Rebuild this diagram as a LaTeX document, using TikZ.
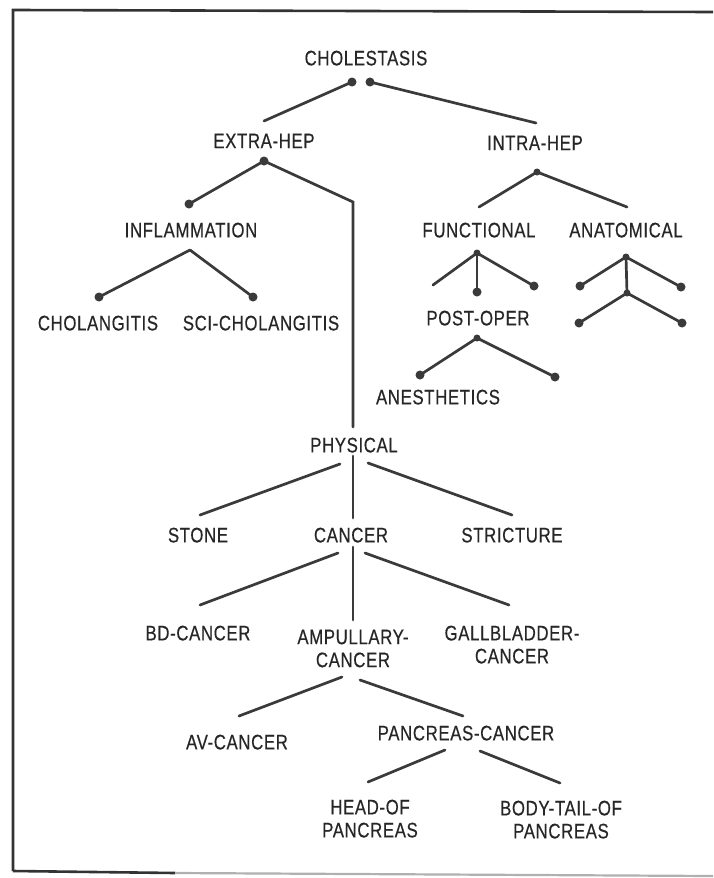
\documentclass[tikz,border=0pt]{standalone}
\usepackage{fontspec}
\setmainfont{Liberation Sans}[FakeStretch=0.8,LetterSpace=3,FakeBold=0.4]
\definecolor{ink}{HTML}{262626}
\definecolor{wire}{HTML}{3A3A3A}
\definecolor{rule}{HTML}{333333}
\definecolor{rulelight}{HTML}{B0B0B0}
\begin{document}
\begin{tikzpicture}[x=1pt,y=-1pt,
  lbl/.style={anchor=north,inner sep=0pt,text=ink,align=center,
              font=\fontsize{21}{23}\selectfont},
  edge/.style={draw=wire,line width=2.7pt,line cap=round},
  frame/.style={draw=rule,line width=2.6pt},
  framelight/.style={draw=rulelight,line width=2.2pt}]
\useasboundingbox[fill=white] (0,0) rectangle (713,878);

% outer rule
\draw[frame] (13,871) -- (13,10) -- (713,12);
\draw[frame] (13,871) -- (175,873);
\draw[framelight] (175,873) -- (713,876);

% labels
\node[lbl] (cholestasis) at (366,50.5) {CHOLESTASIS};
\node[lbl] (extrahep) at (264,133.5) {EXTRA-HEP};
\node[lbl] (intrahep) at (535,135.5) {INTRA-HEP};
\node[lbl] (inflammation) at (191,222.5) {INFLAMMATION};
\node[lbl] (cholangitis) at (98,315.5) {CHOLANGITIS};
\node[lbl] (scichol) at (261,315.5) {SCI-CHOLANGITIS};
\node[lbl] (functional) at (479,222.5) {FUNCTIONAL};
\node[lbl] (anatomical) at (626,222.5) {ANATOMICAL};
\node[lbl] (postoper) at (478,310.5) {POST-OPER};
\node[lbl] (anesthetics) at (438,389.5) {ANESTHETICS};
\node[lbl] (physical) at (354,437.5) {PHYSICAL};
\node[lbl] (stone) at (198,527.5) {STONE};
\node[lbl] (cancer) at (351,527.5) {CANCER};
\node[lbl] (stricture) at (512,527.5) {STRICTURE};
\node[lbl] (bdcancer) at (198,625.5) {BD-CANCER};
\node[lbl] (ampullary) at (353,629.5) {AMPULLARY-\\CANCER};
\node[lbl] (gallbladder) at (512,625.5) {GALLBLADDER-\\CANCER};
\node[lbl] (avcancer) at (237,734.5) {AV-CANCER};
\node[lbl] (pancreascancer) at (466,725.5) {PANCREAS-CANCER};
\node[lbl] (headof) at (370,799.5) {HEAD-OF\\PANCREAS};
\node[lbl] (bodytail) at (561,800.5) {BODY-TAIL-OF\\PANCREAS};

% branch points
\coordinate (chL) at (352,82);   \coordinate (chR) at (370,82);
\coordinate (exTop) at (264,121); \coordinate (inTop) at (536,123);
\coordinate (exV) at (264,161);  \coordinate (inflD) at (189,204);
\coordinate (exBend) at (353,202); \coordinate (phTop) at (353,427);
\coordinate (inV) at (537,172);  \coordinate (fnTop) at (479,207);
\coordinate (anTop) at (627,207);
\coordinate (fnV) at (477,253);  \coordinate (fnL) at (433,285);
\coordinate (fnM) at (477,292);  \coordinate (fnR) at (534,286);
\coordinate (poV) at (477,338);  \coordinate (poL) at (420,375);
\coordinate (poR) at (555,377);
\coordinate (anV) at (626,257);  \coordinate (anL) at (580,286);
\coordinate (anR) at (681,287);  \coordinate (anM) at (627,293);
\coordinate (anLL) at (579,323); \coordinate (anRR) at (682,323);
\coordinate (infV) at (190,250); \coordinate (infL) at (99,297);
\coordinate (infR) at (253,297);
\coordinate (phL1) at (340,464); \coordinate (phL2) at (200,515);
\coordinate (phM1) at (353,456); \coordinate (phM2) at (353,518);
\coordinate (phR1) at (368,463); \coordinate (phR2) at (512,515);
\coordinate (caL1) at (338,553); \coordinate (caL2) at (200,605);
\coordinate (caM1) at (353,547); \coordinate (caM2) at (353,620);
\coordinate (caR1) at (365,553); \coordinate (caR2) at (509,605);
\coordinate (amL1) at (342,677); \coordinate (amL2) at (239,716);
\coordinate (amR1) at (360,680); \coordinate (amR2) at (463,716);
\coordinate (paL1) at (445,750); \coordinate (paL2) at (368,782);
\coordinate (paR1) at (480,751); \coordinate (paR2) at (560,783);

% connectors
\draw[edge] (chL) -- (exTop);
\draw[edge] (chR) -- (inTop);
\draw[edge] (exV) -- (inflD);
\draw[edge] (exV) -- (exBend) -- (phTop);
\draw[edge] (inV) -- (fnTop);
\draw[edge] (inV) -- (anTop);
\draw[edge] (fnV) -- (fnL);
\draw[edge] (fnV) -- (fnM);
\draw[edge] (fnV) -- (fnR);
\draw[edge] (poV) -- (poL);
\draw[edge] (poV) -- (poR);
\draw[edge] (anV) -- (anL);
\draw[edge] (anV) -- (anR);
\draw[edge] (anV) -- (anM);
\draw[edge] (anM) -- (anLL);
\draw[edge] (anM) -- (anRR);
\draw[edge] (infV) -- (infL);
\draw[edge] (infV) -- (infR);
\draw[edge] (phL1) -- (phL2);
\draw[edge] (phM1) -- (phM2);
\draw[edge] (phR1) -- (phR2);
\draw[edge] (caL1) -- (caL2);
\draw[edge] (caM1) -- (caM2);
\draw[edge] (caR1) -- (caR2);
\draw[edge] (amL1) -- (amL2);
\draw[edge] (amR1) -- (amR2);
\draw[edge] (paL1) -- (paL2);
\draw[edge] (paR1) -- (paR2);

% junction dots
\foreach \p in {chL,chR,exV,inflD,fnM,fnR,poL,poR,anL,anR,anLL,anRR,infL,infR}
  \fill[wire] (\p) circle (4.5pt);
\foreach \p in {inV,fnV,poV,anV,anM}
  \fill[wire] (\p) circle (3.5pt);
\end{tikzpicture}
\end{document}
